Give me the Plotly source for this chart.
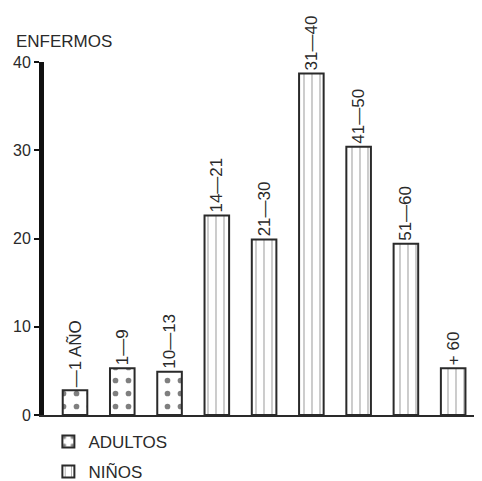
import plotly.graph_objects as go

labels = ["—1 AÑO", "1—9", "10—13", "14—21", "21—30", "31—40", "41—50", "51—60", "+ 60"]
values = [2.8, 5.3, 4.9, 22.6, 19.9, 38.7, 30.4, 19.4, 5.3]
adult_idx = [0, 1, 2]
nino_idx = [3, 4, 5, 6, 7, 8]
legend_names = ["ADULTOS", "NIÑOS"]

FONT = "Liberation Sans"
ink = "#2a2a2a"

fig = go.Figure()
fig.add_trace(go.Bar(
    x=adult_idx, y=[values[i] for i in adult_idx], text=[labels[i] for i in adult_idx],
    name=legend_names[0], legend="legend",
    textposition="outside", textangle=-90, constraintext="none", cliponaxis=False,
    textfont=dict(family=FONT, size=17, color=ink),
    width=0.52,
    marker=dict(color="white", line=dict(color=ink, width=2),
                pattern=dict(shape=".", fgcolor="#000", bgcolor="white", size=13, solidity=0.15)),
))
fig.add_trace(go.Bar(
    x=nino_idx, y=[values[i] for i in nino_idx], text=[labels[i] for i in nino_idx],
    name=legend_names[1], legend="legend2",
    textposition="outside", textangle=-90, constraintext="none", cliponaxis=False,
    textfont=dict(family=FONT, size=17, color=ink),
    width=0.52,
    marker=dict(color="white", line=dict(color=ink, width=2),
                pattern=dict(shape="|", fgcolor="#555", bgcolor="white", size=8, solidity=0.15)),
))

# page body has an 8px margin, so the figure is offset by 8px
fig.update_layout(
    width=474, height=473,
    margin=dict(l=36, r=0, t=54, b=66, autoexpand=False),
    paper_bgcolor="white", plot_bgcolor="white",
    font=dict(family=FONT, size=16, color=ink),
    showlegend=True,
    legend=dict(x=0.01, y=-0.025, xanchor="left", yanchor="top", font=dict(size=17),
                bgcolor="rgba(0,0,0,0)"),
    legend2=dict(x=0.01, y=-0.11, xanchor="left", yanchor="top", font=dict(size=17),
                 bgcolor="rgba(0,0,0,0)"),
)
fig.update_xaxes(range=[-0.656, 8.61], showline=True, linecolor=ink, linewidth=2,
                 showticklabels=False, ticks="", showgrid=False, zeroline=False)
fig.update_yaxes(range=[0, 40], tickvals=[0, 10, 20, 30, 40], showline=True, linecolor="#111",
                 linewidth=5, ticks="outside", ticklen=5, tickwidth=2, tickcolor="#111",
                 showgrid=False, zeroline=False, tickfont=dict(size=16, color=ink))
fig.add_annotation(text="ENFERMOS", xref="paper", yref="paper", x=-0.068, y=1.057,
                   xanchor="left", yanchor="middle", showarrow=False,
                   font=dict(family=FONT, size=17, color=ink))

fig.write_html("out.html")
